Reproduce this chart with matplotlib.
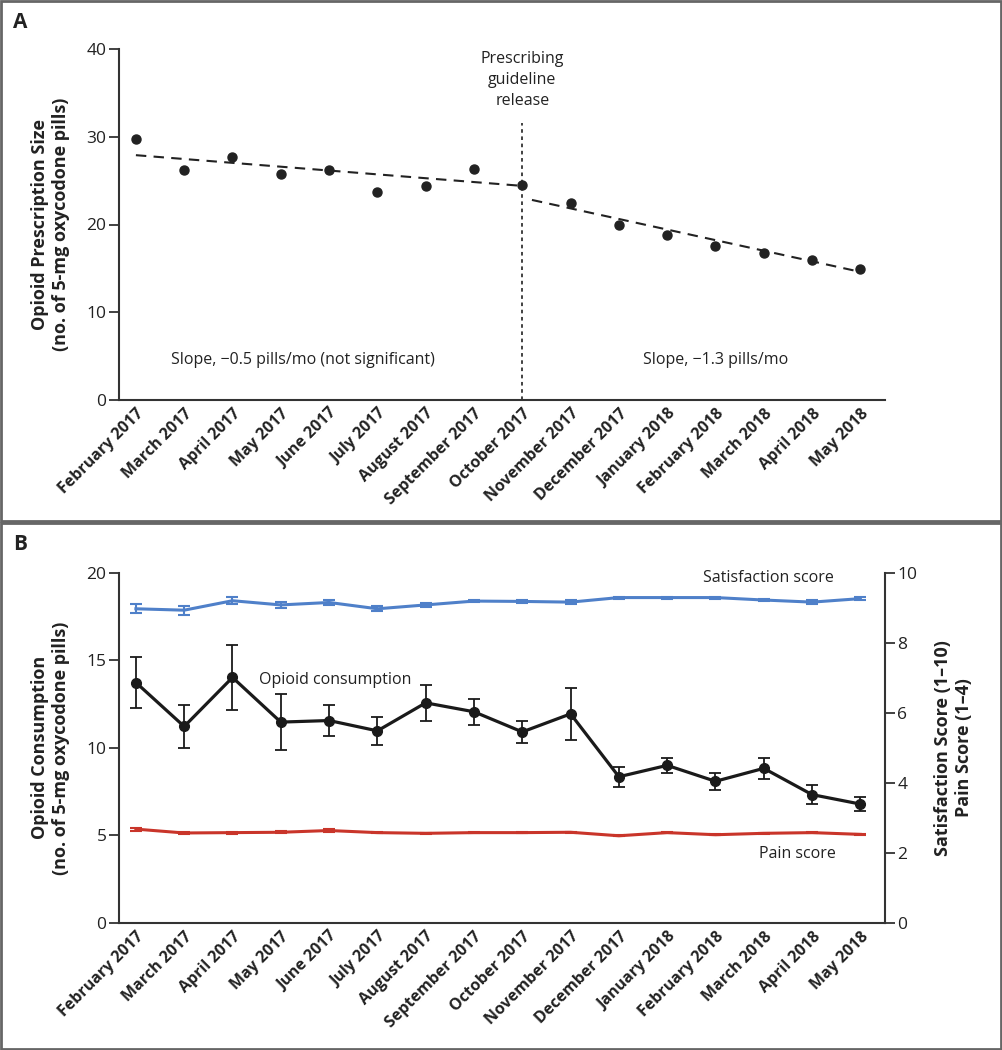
import matplotlib
matplotlib.use("Agg")
import matplotlib.pyplot as plt
from matplotlib.patches import Rectangle
import numpy as np

plt.rcParams['font.family'] = ['Open Sans', 'DejaVu Sans']

months = ["February 2017", "March 2017", "April 2017", "May 2017", "June 2017",
          "July 2017", "August 2017", "September 2017", "October 2017",
          "November 2017", "December 2017", "January 2018", "February 2018",
          "March 2018", "April 2018", "May 2018"]

# Panel A: prescription size
rx_size = [29.7, 26.2, 27.7, 25.7, 26.2, 23.7, 24.4, 26.3, 24.5,
           22.5, 19.9, 18.8, 17.5, 16.8, 15.9, 14.9]
pre_trend_x = [0, 8]
pre_trend_y = [27.9, 24.4]
post_trend_x = [8.2, 15]
post_trend_y = [22.8, 14.6]
guideline_idx = 8

# Panel B: consumption (left axis), scores (right axis)
consumption = [13.73, 11.22, 14.02, 11.47, 11.56, 10.97, 12.57, 12.06, 10.91,
               11.94, 8.35, 9.00, 8.09, 8.83, 7.33, 6.79]
consumption_err = [1.45, 1.25, 1.86, 1.58, 0.88, 0.79, 1.01, 0.75, 0.64,
                   1.49, 0.56, 0.42, 0.48, 0.60, 0.54, 0.38]
satisfaction = [8.97, 8.93, 9.20, 9.08, 9.15, 8.97, 9.08, 9.19, 9.18,
                9.16, 9.29, 9.29, 9.29, 9.22, 9.16, 9.26]
satisfaction_err = [0.13, 0.13, 0.10, 0.09, 0.07, 0.07, 0.05, 0.04, 0.05,
                    0.05, 0.03, 0.03, 0.03, 0.03, 0.05, 0.05]
pain = [2.68, 2.57, 2.58, 2.59, 2.64, 2.58, 2.56, 2.58, 2.58,
        2.59, 2.49, 2.58, 2.52, 2.56, 2.58, 2.53]
pain_err = [0.04, 0.03, 0.03, 0.03, 0.03, 0.02, 0.02, 0.02, 0.02,
            0.02, 0.02, 0.02, 0.02, 0.02, 0.02, 0.02]

x = np.arange(len(months))

W, H = 1002, 1050
fig = plt.figure(figsize=(W / 100, H / 100), dpi=100)

AX_COLOR = "#333333"
TXT = "#222222"
BLUE = "#4f80c9"
RED = "#c9352a"

def fx(px):
    return px / W

def fy(py):
    return 1 - py / H

def style_axis(ax):
    for s in ["top", "right"]:
        ax.spines[s].set_visible(False)
    for s in ["left", "bottom"]:
        ax.spines[s].set_color(AX_COLOR)
        ax.spines[s].set_linewidth(1.5)
    ax.tick_params(axis="y", direction="out", length=7, width=1.3,
                   colors=AX_COLOR, labelsize=12.5, labelcolor=TXT, pad=2)
    ax.tick_params(axis="x", length=0, pad=4)
    ax.set_xticks(x)
    ax.set_xticklabels(months, rotation=45, ha="right", va="top",
                       rotation_mode="anchor", fontsize=11.5,
                       fontweight="bold", color=TXT)
    ax.set_xlim(-0.35, 15.51)

# ---------- Panel A ----------
axA = fig.add_axes([fx(119), fy(400), fx(885) - fx(119), fy(49) - fy(400)])
style_axis(axA)
axA.set_ylim(0, 40)
axA.set_yticks([0, 10, 20, 30, 40])
axA.plot(x, rx_size, "o", color=TXT, markersize=6.5, zorder=3)
axA.plot(pre_trend_x, pre_trend_y, linestyle=(0, (5, 3.5)), color=TXT, lw=1.5)
axA.plot(post_trend_x, post_trend_y, linestyle=(0, (5, 3.5)), color=TXT, lw=1.5)
axA.plot([guideline_idx, guideline_idx], [0, 31.6], linestyle=(0, (2, 2)),
         color=AX_COLOR, lw=1.3)
axA.text(guideline_idx, 36.5, "Prescribing\nguideline\nrelease", ha="center",
         va="center", fontsize=11.5, color=TXT, linespacing=1.4)
axA.text(3.45, 4.6, "Slope, \u22120.5 pills/mo (not significant)", ha="center",
         va="center", fontsize=11.5, color=TXT)
axA.text(12.0, 4.6, "Slope, \u22121.3 pills/mo", ha="center", va="center",
         fontsize=11.5, color=TXT)
axA.set_ylabel("Opioid Prescription Size\n(no. of 5-mg oxycodone pills)",
               fontsize=13, fontweight="bold", color=TXT, labelpad=12,
               linespacing=1.2)

# ---------- Panel B ----------
axB = fig.add_axes([fx(119), fy(923), fx(885) - fx(119), fy(572.7) - fy(923)])
style_axis(axB)
axB.set_ylim(0, 20)
axB.set_yticks([0, 5, 10, 15, 20])
axB.set_ylabel("Opioid Consumption\n(no. of 5-mg oxycodone pills)",
               fontsize=13, fontweight="bold", color=TXT, labelpad=12,
               linespacing=1.2)

axR = axB.twinx()
axR.set_ylim(0, 10)
axR.set_yticks([0, 2, 4, 6, 8, 10])
for s in ["top", "left", "bottom"]:
    axR.spines[s].set_visible(False)
axR.spines["right"].set_color(AX_COLOR)
axR.spines["right"].set_linewidth(1.5)
axR.tick_params(axis="y", direction="out", length=7, width=1.3,
                colors=AX_COLOR, labelsize=12.5, labelcolor=TXT, pad=2)
axR.set_ylabel("Satisfaction Score (1\u201310)\nPain Score (1\u20134)",
               fontsize=13, fontweight="bold", color=TXT, labelpad=12,
               linespacing=1.2, rotation=90)
axR.yaxis.set_label_position("right")

axR.errorbar(x, satisfaction, yerr=satisfaction_err, color=BLUE, lw=2.2,
             elinewidth=1.5, capsize=4, capthick=1.5, zorder=2)
axR.errorbar(x, pain, yerr=pain_err, color=RED, lw=2.2,
             elinewidth=1.5, capsize=4, capthick=1.5, zorder=2)
axR.errorbar(x, consumption, yerr=np.array(consumption_err), color="#1a1a1a",
             lw=2.3, marker="o", markersize=7, elinewidth=1.3, capsize=4,
             capthick=1.3, zorder=3, transform=axB.transData)

axB.text(2.55, 13.9, "Opioid consumption", ha="left", va="center",
         fontsize=11.5, color=TXT)
axR.text(13.1, 9.85, "Satisfaction score", ha="center", va="center",
         fontsize=11.5, color=TXT)
axR.text(13.7, 1.98, "Pain score", ha="center", va="center",
         fontsize=11.5, color=TXT)

# ---------- Panel frames and letters ----------
BORDER = "#666666"
fig.patches.append(Rectangle((fx(1), fy(521)), fx(1000), fy(1) - fy(521),
                             transform=fig.transFigure, fill=False,
                             edgecolor=BORDER, lw=2))
fig.patches.append(Rectangle((fx(1), fy(1049)), fx(1000), fy(523) - fy(1049),
                             transform=fig.transFigure, fill=False,
                             edgecolor=BORDER, lw=2))
fig.text(fx(13), fy(22), "A", fontsize=15, fontweight="bold", va="center",
         ha="left", color=TXT)
fig.text(fx(13), fy(545), "B", fontsize=15, fontweight="bold", va="center",
         ha="left", color=TXT)

fig.savefig("out.png", dpi=100)
